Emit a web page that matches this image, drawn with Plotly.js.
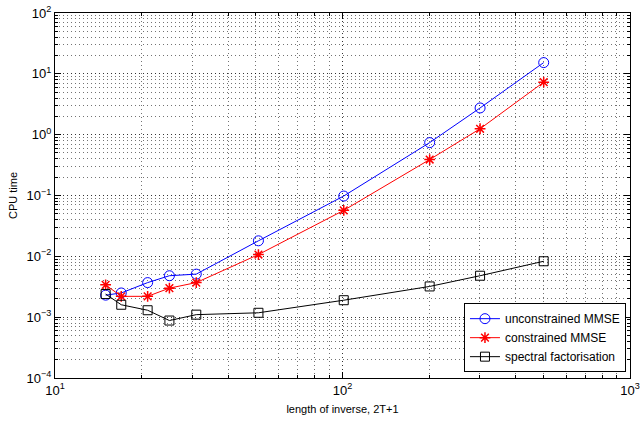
<!DOCTYPE html>
<html>
<head>
<meta charset="utf-8">
<script src="https://cdn.plot.ly/plotly-3.0.1.min.js"></script>
<style>html,body{margin:0;padding:0;background:#fff;}#plot{width:641px;height:423px;}</style>
</head>
<body>
<div id="plot"></div>
<script>
const lengths = [15, 17, 21, 25, 31, 51, 101, 201, 301, 501];
const unconstrained = [0.0023, 0.0025, 0.0037, 0.0048, 0.0051, 0.018, 0.098, 0.74, 2.75, 15.3];
const constrained = [0.0034, 0.0022, 0.0022, 0.0030, 0.0037, 0.0107, 0.057, 0.39, 1.25, 7.3];
const spectral = [0.0024, 0.0016, 0.0013, 0.00088, 0.0011, 0.00118, 0.0019, 0.0032, 0.0048, 0.0083];
const seriesNames = ['unconstrained MMSE', 'constrained MMSE', 'spectral factorisation'];
const xTickVals = [10, 100, 1000];
const xTickText = ['10<sup>1</sup>', '10<sup>2</sup>', '10<sup>3</sup>'];
const yTickVals = [1e-4, 1e-3, 1e-2, 1e-1, 1, 10, 100];
const yTickText = ['10<sup>−4</sup>', '10<sup>−3</sup>', '10<sup>−2</sup>', '10<sup>−1</sup>', '10<sup>0</sup>', '10<sup>1</sup>', '10<sup>2</sup>'];

const traces = [
  {x: lengths, y: unconstrained, name: seriesNames[0], mode: 'lines+markers',
   line: {color: '#0000ff', width: 1}, marker: {symbol: 'circle-open', size: 10, color: '#0000ff', line: {width: 1}}},
  {x: lengths, y: constrained, name: seriesNames[1], mode: 'lines+markers',
   line: {color: '#ff0000', width: 1}, marker: {symbol: 'asterisk-open', size: 9, color: '#ff0000', line: {width: 1.5, color: '#ff0000'}}},
  {x: lengths, y: spectral, name: seriesNames[2], mode: 'lines+markers',
   line: {color: '#000000', width: 1}, marker: {symbol: 'square-open', size: 9, color: '#000000', line: {width: 1}}}
];

const gridStyle = {gridcolor: 'rgba(0,0,0,0.55)', griddash: '1px,3px', gridwidth: 1};

const layout = {
  width: 641, height: 423,
  margin: {l: 55, r: 11, t: 13, b: 45},
  paper_bgcolor: '#fff', plot_bgcolor: '#fff',
  font: {family: 'Liberation Sans, Arial, sans-serif', size: 11, color: '#000'},
  showlegend: true,
  legend: {x: 0.993, y: 0.016, xanchor: 'right', yanchor: 'bottom', bgcolor: '#fff',
           bordercolor: '#000', borderwidth: 1, font: {size: 12}, tracegroupgap: 0},
  xaxis: Object.assign({
    type: 'log', range: [1, 3], tickvals: xTickVals, ticktext: xTickText,
    ticks: 'inside', ticklen: 6, tickcolor: '#000', showline: true, linecolor: '#000', linewidth: 1,
    mirror: 'ticks', showgrid: true, zeroline: false,
    tickfont: {size: 13},
    title: {text: 'length of inverse, 2T+1', font: {size: 11}, standoff: 8},
    minor: Object.assign({dtick: 'D1', ticks: 'inside', ticklen: 3, tickcolor: '#000', showgrid: true}, gridStyle)
  }, gridStyle),
  yaxis: Object.assign({
    type: 'log', range: [-4, 2], tickvals: yTickVals, ticktext: yTickText,
    ticks: 'inside', ticklen: 6, tickcolor: '#000', showline: true, linecolor: '#000', linewidth: 1,
    mirror: 'ticks', showgrid: true, zeroline: false,
    tickfont: {size: 13},
    title: {text: 'CPU time', font: {size: 11}, standoff: 6},
    minor: Object.assign({dtick: 'D1', ticks: 'inside', ticklen: 3, tickcolor: '#000', showgrid: true}, gridStyle)
  }, gridStyle)
};

Plotly.newPlot('plot', traces, layout, {displayModeBar: false, staticPlot: true});
</script>
</body>
</html>
